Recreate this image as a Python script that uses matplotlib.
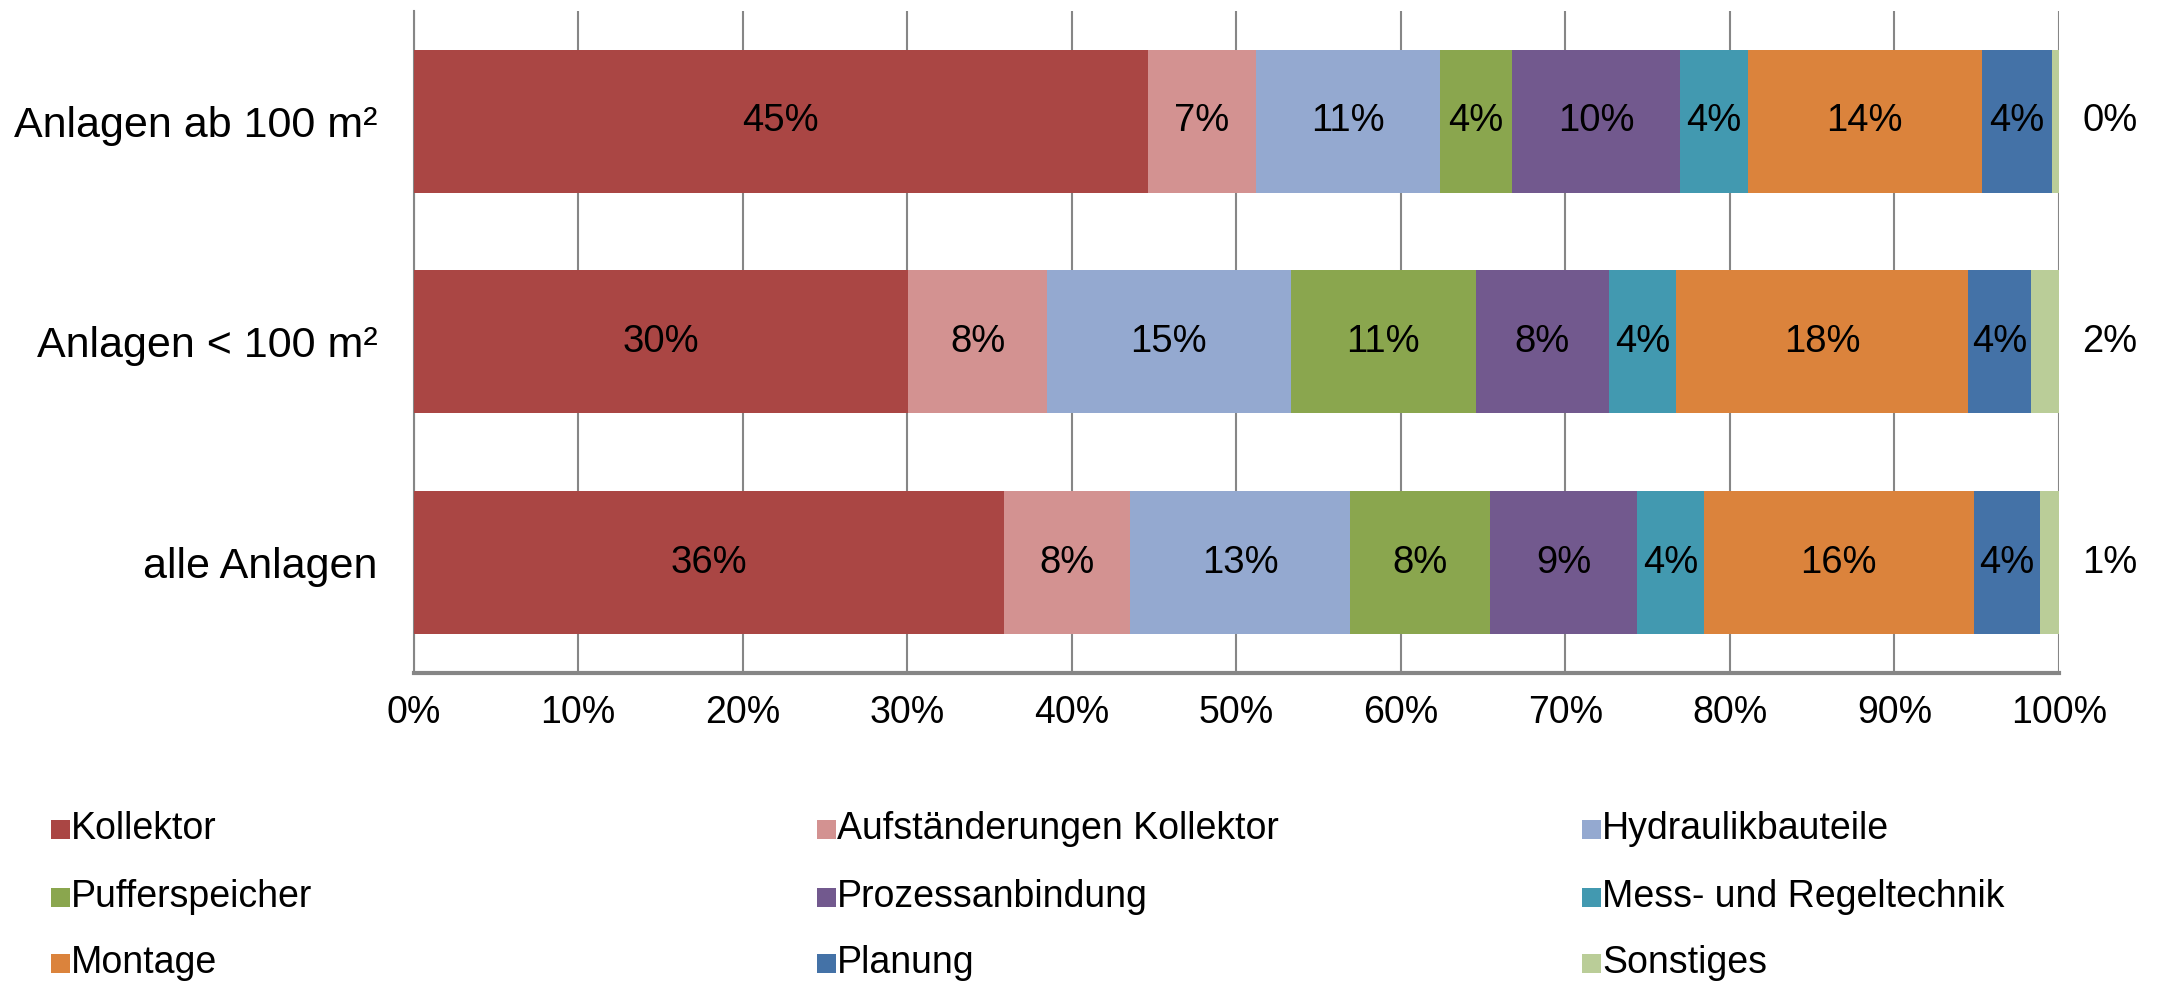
import matplotlib
matplotlib.use("Agg")
import matplotlib.pyplot as plt
from matplotlib.patches import Rectangle

plt.rcParams["font.family"] = ["Liberation Sans", "DejaVu Sans"]

# =========================
# Daten (Anteile in %)
# =========================

categories = ["alle Anlagen", "Anlagen < 100 m²", "Anlagen ab 100 m²"]

components = [
    "Kollektor", "Aufständerungen Kollektor", "Hydraulikbauteile",
    "Pufferspeicher", "Prozessanbindung", "Mess- und Regeltechnik",
    "Montage", "Planung", "Sonstiges",
]

# Reihenfolge wie categories: alle, < 100 m², ab 100 m²
kollektor = [35.89, 30.07, 44.63]
aufstaenderung = [7.66, 8.40, 6.55]
hydraulik = [13.36, 14.86, 11.19]
pufferspeicher = [8.49, 11.21, 4.37]
prozessanbindung = [8.96, 8.11, 10.24]
msr = [4.06, 4.09, 4.09]
montage = [16.39, 17.73, 14.26]
planung = [4.02, 3.85, 4.26]
sonstiges = [1.17, 1.68, 0.41]

series = [kollektor, aufstaenderung, hydraulik, pufferspeicher,
          prozessanbindung, msr, montage, planung, sonstiges]

colors = ["#AA4644", "#D39291", "#94A9D0", "#8AA64E", "#72598E",
          "#4299B0", "#DB833C", "#4472A7", "#BACD98"]

# =========================
# Diagramm
# =========================

fig = plt.figure(figsize=(21.66, 9.84), dpi=100)
ax = fig.add_axes([0.191, 0.316, 0.7596, 0.673])

y = list(range(len(categories)))
left = [0.0] * len(categories)

for i, (vals, col) in enumerate(zip(series, colors)):
    ax.barh(y, vals, left=left, height=0.648, color=col, zorder=3)
    for j, v in enumerate(vals):
        if i == len(series) - 1:
            xpos = 103.1
        else:
            xpos = left[j] + v / 2
        ax.text(xpos, y[j], f"{v:.0f}%", ha="center", va="center",
                fontsize=27.5, color="black", zorder=4)
    left = [l + v for l, v in zip(left, vals)]

ax.set_xlim(0, 100)
ax.set_ylim(-0.5, 2.5)
ax.set_xticks(range(0, 101, 10))
ax.set_xticklabels([f"{t}%" for t in range(0, 101, 10)])
ax.set_yticks(y)
ax.set_yticklabels(categories)

ax.grid(axis="x", color="#868686", linewidth=1.5, zorder=0)
ax.tick_params(axis="x", length=0, pad=16, labelsize=27)
ax.tick_params(axis="y", length=0, pad=26, labelsize=31)

for side in ["top", "right"]:
    ax.spines[side].set_visible(False)
ax.spines["left"].set_color("#868686")
ax.spines["left"].set_linewidth(1.5)
ax.spines["bottom"].set_color("#868686")
ax.spines["bottom"].set_linewidth(3)

# =========================
# Legende (zeilenweise, 3 Spalten)
# =========================

W, H = 2166, 984
col_x = [52, 818, 1583]
row_y = [829, 897, 963]
box = 19

for k, (name, col) in enumerate(zip(components, colors)):
    cx = col_x[k % 3]
    cy = row_y[k // 3]
    fig.patches.append(Rectangle(((cx - box / 2 + 8) / W, (H - cy - box / 2) / H),
                                 box / W, box / H, transform=fig.transFigure,
                                 facecolor=col, edgecolor="none"))
    fig.text((cx + 19) / W, (H - cy) / H, name, ha="left", va="center",
             fontsize=27)

fig.savefig("out.png", dpi=100)
